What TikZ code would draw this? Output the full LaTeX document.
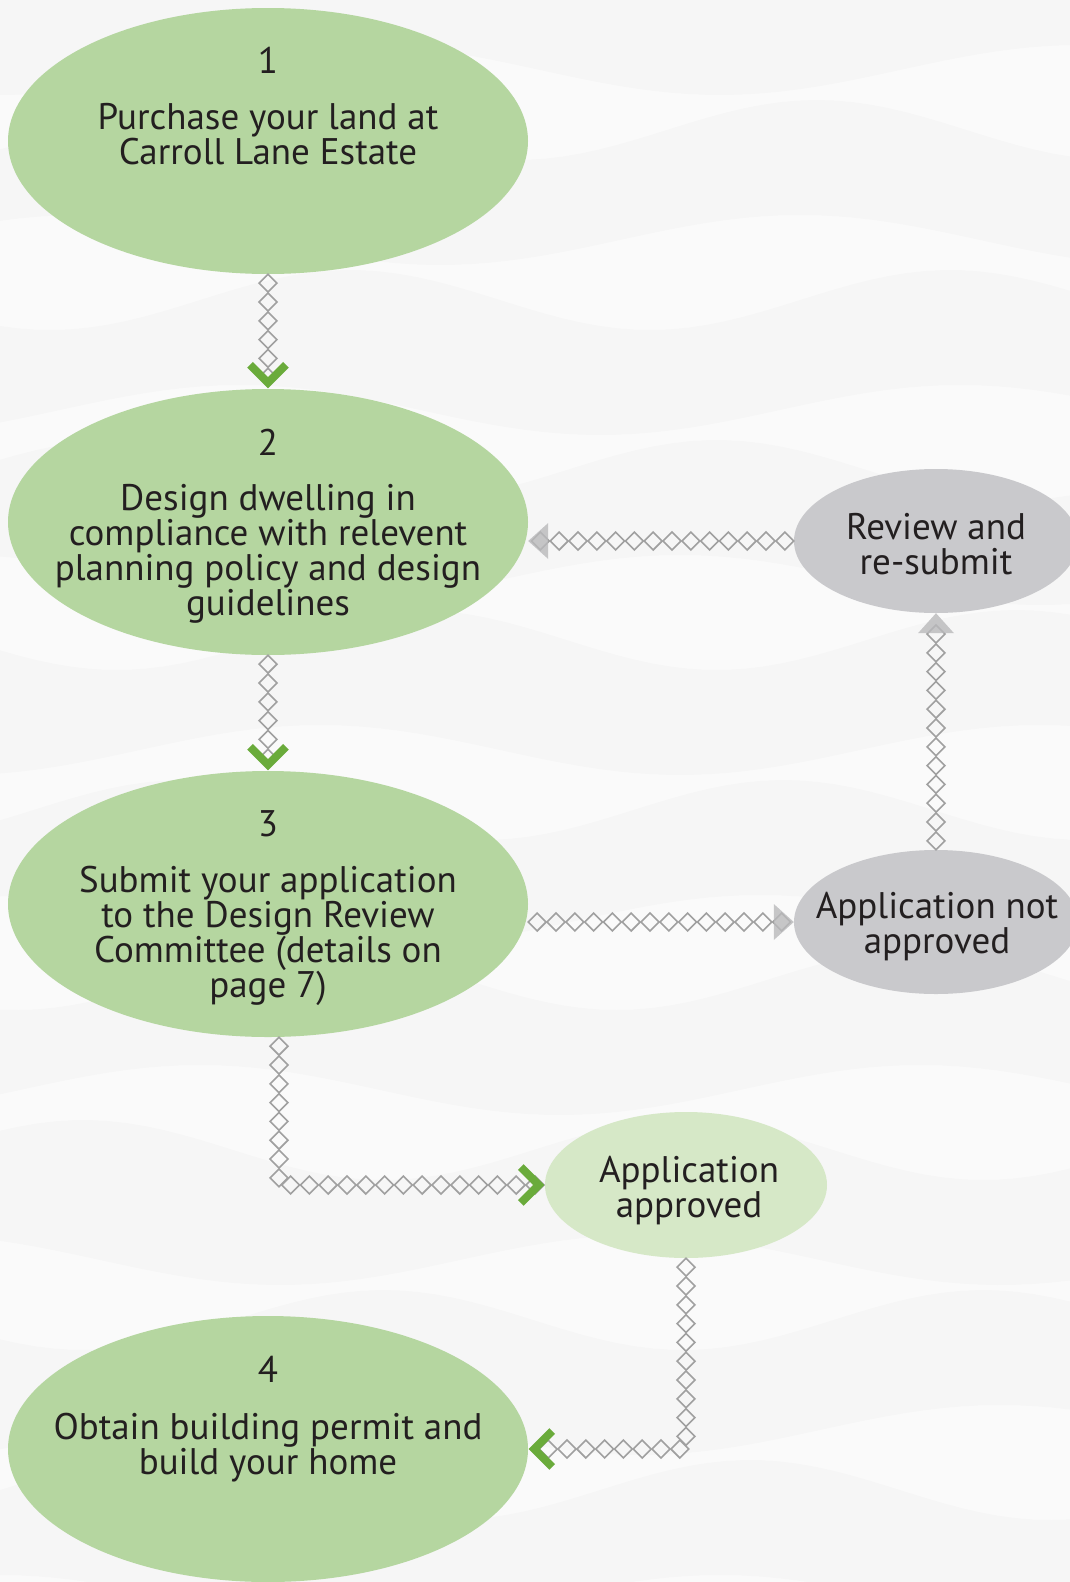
\documentclass[tikz,border=0pt]{standalone}
\usepackage{fontspec}
\setmainfont{PT Sans}
\usetikzlibrary{shapes.geometric,decorations.markings,calc}

\definecolor{stepgreen}{HTML}{B5D6A0}
\definecolor{okgreen}{HTML}{D6E8C7}
\definecolor{greybub}{HTML}{C9C9CC}
\definecolor{chevgreen}{HTML}{6AAB3B}
\definecolor{linkgrey}{HTML}{A0A0A0}
\definecolor{tipgrey}{HTML}{B9B9BB}
\definecolor{txt}{HTML}{231F20}
\definecolor{paper}{HTML}{FAFAFA}

\begin{document}
\begin{tikzpicture}[x=1pt,y=-1pt,
  bubble/.style={ellipse, inner sep=0pt, draw=none},
  stepbub/.style={bubble, fill=stepgreen, minimum width=520pt, minimum height=266pt},
  sidebub/.style={bubble, fill=greybub, minimum width=284pt, minimum height=144pt},
  okbub/.style={bubble, fill=okgreen, minimum width=282pt, minimum height=146pt},
  lbl/.style={font=\fontsize{37}{35}\selectfont, text=txt, align=center, inner sep=0pt},
  link/.style={rectangle, rotate=45, draw=linkgrey, line width=1.6pt, fill=none,
    minimum width=12.6pt, minimum height=12.6pt, inner sep=0pt},
  chain/.style={postaction={decorate, decoration={markings,
    mark=between positions 9pt and -9pt step 18.8pt with {\node[link]{};}}}},
  greentip/.style={postaction={decorate, decoration={markings,
    mark=at position 1 with {\draw[chevgreen, line width=8pt, line join=miter]
      (-24pt,18pt) -- (-6pt,0pt) -- (-24pt,-18pt);}}}},
  greytip/.style={postaction={decorate, decoration={markings,
    mark=at position 1 with {\fill[tipgrey, opacity=.8]
      (0pt,0pt) -- (-20pt,18pt) -- (-20pt,-18pt) -- cycle;}}}}
]
% paper and soft waves
\fill[paper] (0,0) rectangle (1070,1582);
\useasboundingbox (0,0) rectangle (1070,1582);
\foreach \y/\p in {-40/0,130/140,300/60,470/200,640/20,810/160,980/80,1150/220,1320/40,1490/180}{
  \fill[black, opacity=.014]
    plot[domain=0:1070, samples=60] (\x,{\y+30*sin(0.6*\x+\p)})
    -- plot[domain=1070:0, samples=60] (\x,{\y+110+25*sin(0.5*\x+\p+90)}) -- cycle;
}

% step bubbles
\node[stepbub] (e1) at (268,141) {};
\node[stepbub] (e2) at (268,522) {};
\node[stepbub] (e3) at (268,904) {};
\node[stepbub] (e4) at (268,1449) {};
\node[sidebub] (rev) at (936,541) {};
\node[sidebub] (nap) at (936,922) {};
\node[okbub] (app) at (686,1185) {};

% texts
\node[lbl] (n1) at (268,60.5) {1};
\node[lbl] (t1) at (268,134.5) {Purchase your land at\\Carroll Lane Estate};
\node[lbl] (n2) at (268,442) {2};
\node[lbl] (t2) at (268,554) {Design dwelling in\\compliance with relevent\\planning policy and design\\guidelines};
\node[lbl] (n3) at (268,824) {3};
\node[lbl] (t3) at (268,936) {Submit your application\\to the Design Review\\Committee (details on\\page 7)};
\node[lbl] (n4) at (268,1369) {4};
\node[lbl] (t4) at (268,1448) {Obtain building permit and\\build your home};
\node[lbl] (trev) at (936,544) {Review and\\re-submit};
\node[lbl] (tnap) at (937,927) {Application not\\approved};
\node[lbl] (tapp) at (689,1191) {Application\\approved};

% connectors
\path[chain, greentip] (e1.south) -- (e2.north);
\path[chain, greentip] (e2.south) -- (e3.north);
\path[chain, greytip] (rev.west) -- (rev.west -| e2.east);
\path[chain, greytip] (nap.north) -- (rev.south);
\path[chain, greytip] (e3.east |- nap.west) -- (nap.west);
\path[chain, greentip] ($(e3.south)+(11,0)$) |- (app.west);
\path[chain, greentip] (app.south) |- (e4.east);
\end{tikzpicture}
\end{document}
